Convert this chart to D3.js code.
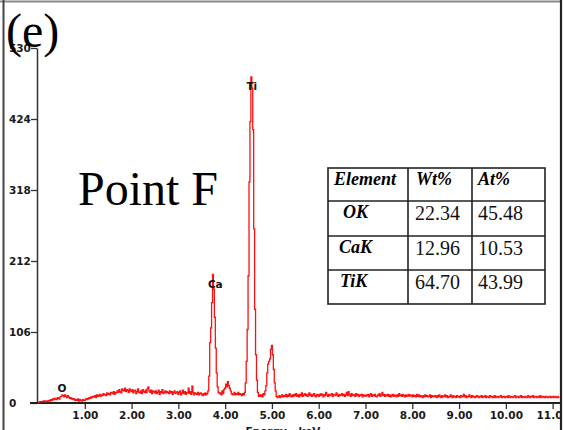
<!DOCTYPE html>
<html>
<head>
<meta charset="utf-8">
<script src="https://cdn.jsdelivr.net/npm/d3@7"></script>
<style>
  body { margin: 0; background: #fff; }
  svg { display: block; }
</style>
</head>
<body>
<div id="chart"></div>
<script>

// EDS spectrum, one count per 0.02 keV channel starting at 0 keV
var energyStep = 0.02;
var counts = [
  1,1,2,2,2,2,3,2,3,3,2,3,4,3,5,4,6,5,7,6,5,8,7,6,9,
  10,12,11,9,12,10,8,11,9,7,8,6,7,5,6,4,5,4,6,3,5,4,3,5,4,
  4,6,5,7,6,8,7,9,8,10,9,11,8,12,10,11,13,10,12,11,14,12,13,11,15,
  13,14,12,16,15,14,17,13,16,15,18,16,20,17,15,21,19,18,22,17,20,19,16,21,18,
  17,20,15,18,19,14,17,21,16,15,18,14,20,17,16,19,15,21,24,18,16,19,14,18,17,
  15,18,14,16,19,13,17,15,20,14,16,18,15,17,16,14,18,15,17,13,16,18,14,15,17,
  13,16,18,12,15,19,14,17,13,16,15,22,14,17,13,25,16,12,15,14,13,16,12,14,15,
  13,11,14,12,15,12,14,18,40,90,112,150,192,170,128,82,45,24,16,14,15,12,18,14,20,
  22,28,24,32,26,22,18,14,12,13,16,12,14,13,16,12,14,13,11,14,12,16,30,62,110,
  190,330,420,487,470,408,260,140,72,34,16,10,12,10,12,9,14,12,18,26,45,58,62,66,80,
  86,72,50,30,18,10,8,9,11,8,10,12,9,11,10,13,9,12,10,14,11,9,12,10,13,
  11,14,10,12,9,13,11,15,10,12,14,11,13,10,12,15,11,13,10,12,14,11,9,13,12,
  10,13,11,14,12,9,13,11,16,12,10,13,11,12,14,10,13,12,11,15,12,10,13,11,12,
  14,11,13,10,12,16,11,17,12,10,14,11,13,12,10,14,11,13,10,12,11,13,9,12,11,
  10,12,11,13,9,12,14,10,12,11,13,10,9,12,11,14,10,12,16,11,13,10,12,11,13,
  10,12,9,11,13,10,12,11,9,12,10,14,11,12,10,13,11,9,12,10,11,13,10,12,11,
  9,12,10,11,9,13,10,12,9,11,10,8,11,9,12,10,11,9,10,12,8,11,10,9,11,
  10,8,11,9,12,10,8,11,9,10,12,9,11,8,10,9,12,10,8,11,9,10,8,11,9,
  10,8,11,9,10,13,9,11,8,10,9,12,10,8,11,9,10,8,9,11,10,8,10,9,11,
  8,10,9,11,8,10,9,8,11,9,10,8,9,11,8,10,9,8,10,9,11,8,9,10,8,
  9,10,8,11,9,8,10,9,8,10,11,8,9,10,8,9,11,8,10,9,8,10,9,8,11,
  9,8,10,9,11,8,9,10,8,9,10,8,11,9,8,10,9,8,10,9,8,9,10,8,9,
  10,8,9,10,8,9,8,10
];

var yTicks = [0, 106, 212, 318, 424, 530];
var xTicks = [1, 2, 3, 4, 5, 6, 7, 8, 9, 10, 11];

// peak markers (label baseline position in energy / counts)
var peakNames = ["O", "Ca", "Ti"];
var peakEnergy = [0.51, 3.79, 4.57];
var peakLabelCount = [16, 172, 467];

// composition table
var tableHeader = ["Element", "Wt%", "At%"];
var tableElements = ["OK", "CaK", "TiK"];
var wtPercent = ["22.34", "12.96", "64.70"];
var atPercent = ["45.48", "10.53", "43.99"];

var svgWidth = 564;
var svgHeight = 430;

var svg = d3.select("#chart")
  .append("svg")
  .attr("width", svgWidth)
  .attr("height", svgHeight);

var x = d3.scaleLinear().domain([0, 11.2]).range([38, 562]);
var y = d3.scaleLinear().domain([0, 530]).range([403, 48]);

var tickFont = "'DejaVu Sans', Verdana, sans-serif";

// frame around the figure
svg.append("line").attr("x1", 0).attr("x2", 562).attr("y1", 1.5).attr("y2", 1.5)
  .attr("stroke", "#8a8a8a").attr("stroke-width", 2);
svg.append("line").attr("x1", 3.5).attr("x2", 3.5).attr("y1", 0).attr("y2", svgHeight)
  .attr("stroke", "#444").attr("stroke-width", 2);

// y axis
var leftAxis = d3.axisLeft(y).tickValues(yTicks).tickSize(6).tickSizeOuter(0)
  .tickFormat(d3.format("d"));
var yAxis = svg.append("g")
  .attr("transform", "translate(37,0)")
  .call(leftAxis);
yAxis.select(".domain").attr("stroke", "#333").attr("stroke-width", 1.5);
yAxis.selectAll(".tick line").attr("stroke", "#333").attr("stroke-width", 1.3);
yAxis.selectAll(".tick text")
  .attr("x", -28)
  .attr("text-anchor", "start")
  .attr("font-family", tickFont)
  .attr("font-weight", "bold")
  .attr("font-size", 10.5)
  .attr("fill", "#1a1a1a");

// x axis
var bottomAxis = d3.axisBottom(x).tickValues(xTicks).tickSize(6).tickSizeOuter(0)
  .tickFormat(d3.format(".2f"));
var xAxis = svg.append("g")
  .attr("transform", "translate(0,403)")
  .call(bottomAxis);
xAxis.select(".domain").remove();
xAxis.append("line").attr("x1", 30).attr("x2", 561).attr("y1", 0).attr("y2", 0)
  .attr("stroke", "#222").attr("stroke-width", 2);
xAxis.selectAll(".tick line").attr("stroke", "#333").attr("stroke-width", 1.3);
xAxis.selectAll(".tick text")
  .attr("y", 9)
  .attr("font-family", tickFont)
  .attr("font-weight", "bold")
  .attr("font-size", 10.5)
  .attr("fill", "#1a1a1a");

svg.append("text")
  .attr("x", 283).attr("y", 435)
  .attr("text-anchor", "middle")
  .attr("font-family", tickFont)
  .attr("font-weight", "bold")
  .attr("font-size", 10.5)
  .attr("fill", "#1a1a1a")
  .text("Energy - keV");

// spectrum trace
var line = d3.line()
  .x(function(d, i) { return x(i * energyStep); })
  .y(function(d) { return y(d); })
  .curve(d3.curveStep);

svg.append("path")
  .datum(counts)
  .attr("d", line)
  .attr("fill", "none")
  .attr("stroke", "#ff1010")
  .attr("stroke-width", 1.3);

// peak labels
svg.selectAll(".peak-label")
  .data(peakNames)
  .enter()
  .append("text")
  .attr("class", "peak-label")
  .attr("x", function(d, i) { return x(peakEnergy[i]); })
  .attr("y", function(d, i) { return y(peakLabelCount[i]); })
  .attr("text-anchor", "middle")
  .attr("font-family", tickFont)
  .attr("font-weight", "bold")
  .attr("font-size", 10.5)
  .attr("fill", "#111")
  .text(function(d) { return d; });

// big annotations
svg.append("text")
  .attr("x", 6).attr("y", 47)
  .attr("font-family", "'Liberation Serif', 'Times New Roman', serif")
  .attr("font-size", 48)
  .attr("fill", "#000")
  .text("(e)");

svg.append("text")
  .attr("x", 78).attr("y", 205)
  .attr("font-family", "'Liberation Serif', 'Times New Roman', serif")
  .attr("font-size", 48)
  .attr("fill", "#000")
  .text("Point F");

// table
var colEdges = [328, 408, 472, 545];
var rowEdges = [168, 201, 236, 270, 304];
var table = svg.append("g");

table.append("rect")
  .attr("x", colEdges[0]).attr("y", rowEdges[0])
  .attr("width", colEdges[3] - colEdges[0])
  .attr("height", rowEdges[4] - rowEdges[0])
  .attr("fill", "#fff")
  .attr("stroke", "#222")
  .attr("stroke-width", 1.6);

colEdges.slice(1, 3).forEach(function(cx) {
  table.append("line").attr("x1", cx).attr("x2", cx)
    .attr("y1", rowEdges[0]).attr("y2", rowEdges[4])
    .attr("stroke", "#222").attr("stroke-width", 1.6);
});
rowEdges.slice(1, 4).forEach(function(ry) {
  table.append("line").attr("x1", colEdges[0]).attr("x2", colEdges[3])
    .attr("y1", ry).attr("y2", ry)
    .attr("stroke", "#222").attr("stroke-width", 1.6);
});

var serif = "'Liberation Serif', 'Times New Roman', serif";
var headerX = [334, 416, 478];
table.selectAll(".th")
  .data(tableHeader)
  .enter()
  .append("text")
  .attr("x", function(d, i) { return headerX[i]; })
  .attr("y", 185)
  .attr("font-family", serif)
  .attr("font-weight", "bold")
  .attr("font-style", "italic")
  .attr("font-size", 18)
  .text(function(d) { return d; });

var elementX = [343, 339, 340];
var labelBase = [218, 253, 287];
table.selectAll(".el")
  .data(tableElements)
  .enter()
  .append("text")
  .attr("x", function(d, i) { return elementX[i]; })
  .attr("y", function(d, i) { return labelBase[i]; })
  .attr("font-family", serif)
  .attr("font-weight", "bold")
  .attr("font-style", "italic")
  .attr("font-size", 18)
  .text(function(d) { return d; });

table.selectAll(".wt")
  .data(wtPercent)
  .enter()
  .append("text")
  .attr("x", 415)
  .attr("y", function(d, i) { return labelBase[i] + 2; })
  .attr("font-family", serif)
  .attr("font-size", 20)
  .attr("fill", "#111")
  .text(function(d) { return d; });

table.selectAll(".at")
  .data(atPercent)
  .enter()
  .append("text")
  .attr("x", 478)
  .attr("y", function(d, i) { return labelBase[i] + 2; })
  .attr("font-family", serif)
  .attr("font-size", 20)
  .attr("fill", "#111")
  .text(function(d) { return d; });

// right frame edge, hides anything past it
svg.append("rect").attr("x", 562).attr("y", 0).attr("width", 2).attr("height", svgHeight)
  .attr("fill", "#fff");
svg.append("line").attr("x1", 561).attr("x2", 561).attr("y1", 0).attr("y2", svgHeight)
  .attr("stroke", "#222").attr("stroke-width", 2.2);

</script>
</body>
</html>
